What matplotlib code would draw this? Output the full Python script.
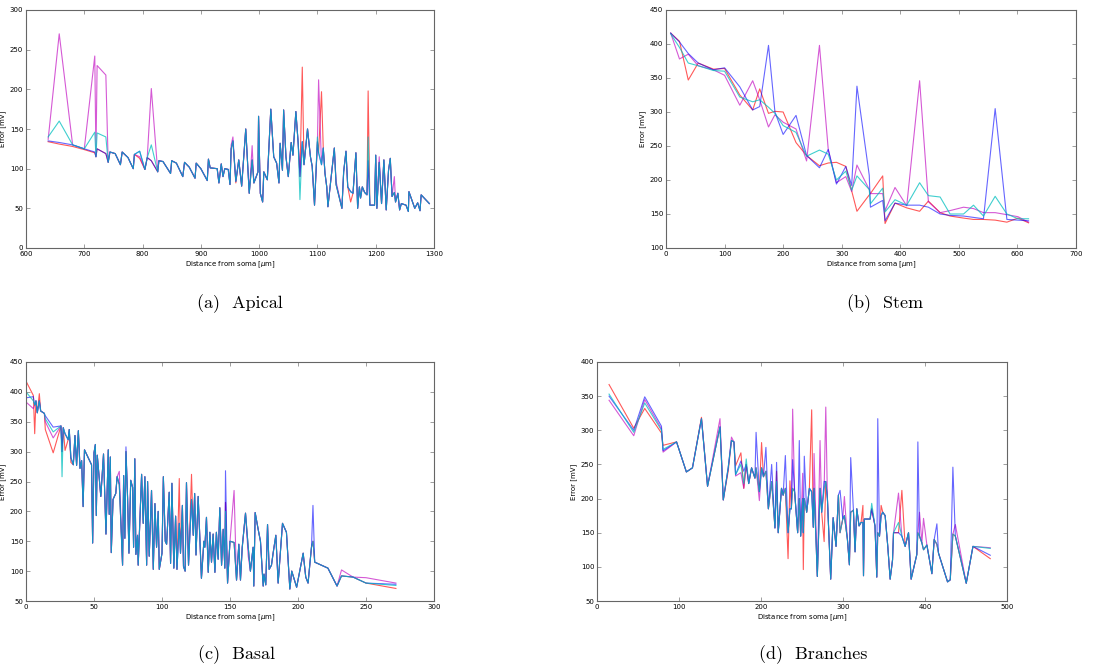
import matplotlib
matplotlib.use('Agg')
import matplotlib.pyplot as plt

# ---- apical -------------------------------------------------------------
apical_x = [638, 657, 680, 700, 718, 720, 722, 737, 741, 744,
            753, 762, 765, 775, 784, 786, 795, 804, 808, 815,
            826, 828, 835, 848, 850, 858, 869, 872, 880, 890,
            892, 900, 911, 913, 916, 928, 931, 935, 938, 941,
            947, 950, 952, 955, 960, 965, 970, 977, 983, 988,
            991, 998, 999, 1002, 1006, 1008, 1014, 1020, 1025, 1030,
            1034, 1036, 1040, 1042, 1046, 1050, 1055, 1058, 1063, 1067,
            1070, 1074, 1077, 1083, 1088, 1091, 1095, 1100, 1102, 1107,
            1110, 1113, 1116, 1118, 1129, 1132, 1142, 1145, 1149, 1152,
            1157, 1161, 1166, 1169, 1172, 1174, 1177, 1181, 1185, 1187,
            1190, 1198, 1200, 1202, 1206, 1210, 1214, 1218, 1222, 1225,
            1228, 1232, 1234, 1238, 1241, 1244, 1252, 1256, 1257, 1267,
            1272, 1276, 1278, 1292]
apical_err = [135, 133, 130, 125, 121, 115, 125, 119, 108, 121,
              119, 105, 121, 114, 100, 118, 122, 99, 114, 110,
              96, 110, 109, 94, 110, 107, 90, 108, 102, 88,
              107, 100, 85, 112, 101, 100, 82, 106, 90, 100,
              99, 80, 125, 135, 84, 111, 78, 150, 69, 111,
              82, 96, 166, 69, 58, 96, 86, 175, 115, 107,
              82, 132, 98, 174, 115, 90, 133, 117, 172, 132,
              90, 134, 105, 150, 115, 103, 54, 134, 120, 105,
              126, 94, 77, 52, 126, 80, 50, 96, 122, 77,
              71, 69, 120, 50, 77, 63, 77, 70, 67, 110,
              54, 54, 117, 50, 108, 56, 111, 48, 98, 113,
              65, 70, 58, 69, 48, 56, 54, 46, 71, 50,
              57, 47, 67, 56]
# points where a run departs from the shared curve
apical_red = {638: 134, 657: 131, 680: 128, 700: 124, 718: 120, 795: 113,
              960: 82, 1074: 228, 1107: 197, 1157: 58, 1187: 198}
apical_mag = {638: 137, 657: 270, 718: 242, 722: 230, 737: 218, 795: 115,
              815: 201, 952: 130, 955: 140, 988: 129, 1102: 212, 1132: 84,
              1206: 115, 1232: 90}
apical_blue = {}
apical_cyan = {638: 140, 657: 160, 718: 146, 722: 145, 737: 140, 815: 130,
               1070: 61, 1100: 140, 1187: 140}

# ---- stem ---------------------------------------------------------------
stem_x = [8, 23, 38, 55, 81, 100, 126, 148, 160, 175,
          186, 200, 222, 240, 262, 277, 291, 307, 317, 326,
          347, 349, 370, 374, 391, 411, 433, 448, 468, 485,
          508, 525, 542, 562, 582, 601, 619]
stem_red = [416, 404, 347, 372, 363, 364, 325, 303, 334, 298,
            301, 300, 255, 236, 221, 225, 226, 220, 184, 154,
            178, 180, 206, 136, 166, 159, 154, 169, 152, 147,
            144, 142, 142, 141, 138, 144, 137]
stem_mag = [416, 378, 385, 368, 362, 354, 310, 346, 318, 278,
            296, 285, 275, 228, 398, 245, 196, 205, 183, 222,
            186, 180, 180, 155, 189, 162, 346, 168, 152, 155,
            160, 158, 152, 152, 149, 146, 138]
stem_blue = [416, 403, 386, 372, 362, 365, 337, 303, 308, 398,
             300, 267, 295, 236, 218, 245, 194, 220, 192, 338,
             207, 160, 170, 140, 166, 163, 163, 160, 150, 148,
             147, 145, 143, 305, 142, 141, 140]
stem_cyan = [415, 395, 372, 368, 361, 360, 322, 315, 318, 307,
             298, 280, 270, 235, 244, 238, 200, 213, 185, 206,
             186, 165, 188, 153, 171, 163, 196, 177, 175, 150,
             150, 163, 147, 176, 150, 143, 143]

# ---- basal --------------------------------------------------------------
basal_x = [0, 5.4, 6.4, 7.3, 8.3, 9.8, 10.8, 13.5, 14.2, 20,
           25.7, 26.5, 27.4, 28.7, 31, 31.8, 33, 34.8, 36, 37.2,
           38.5, 39.7, 40.9, 42, 43, 48.2, 49, 50, 51, 51.7,
           52.4, 55, 57, 58.8, 60.5, 61.2, 62, 62.7, 64, 66,
           67, 68.6, 71, 71.8, 72.7, 73.5, 74.7, 75.7, 77, 78.4,
           79.1, 80, 80.8, 82, 82.5, 85, 86.2, 87.4, 88.7, 89.4,
           90.6, 92.3, 93.6, 94.8, 96, 97.2, 98, 100, 101, 102.4,
           103.4, 105.3, 106.3, 107.3, 108.7, 110, 111, 112.7, 113.6, 115,
           115.8, 117, 118, 119.5, 121.7, 123, 124, 125, 126.6, 129,
           130.8, 131.5, 132.7, 134, 135.2, 136.4, 137.6, 138.9, 140, 141.3,
           142.5, 143.8, 145, 146.2, 146.7, 148.2, 150, 153, 154.8, 156.5,
           157.7, 159, 161.4, 163.4, 165, 167, 167.5, 168.5, 170.7, 172.4,
           174.4, 175, 176.3, 177.6, 178.8, 180.5, 181.7, 183.7, 185.4, 187,
           188.6, 191.5, 194, 195.4, 199, 203.8, 205.7, 207.4, 209.9, 211,
           212.3, 222, 228.7, 232, 240.5, 250, 272]
basal_err = [390, 392, 378, 385, 365, 385, 368, 364, 360, 341,
             343, 300, 340, 330, 320, 337, 290, 278, 327, 277,
             335, 272, 285, 208, 303, 278, 147, 298, 312, 193,
             294, 225, 296, 162, 303, 195, 291, 131, 220, 230,
             258, 245, 110, 260, 155, 300, 222, 130, 252, 240,
             140, 288, 128, 160, 110, 262, 180, 258, 110, 250,
             125, 235, 103, 213, 140, 200, 103, 130, 258, 150,
             145, 232, 113, 247, 105, 192, 103, 180, 130, 210,
             108, 100, 248, 110, 220, 160, 230, 127, 225, 88,
             150, 140, 190, 98, 165, 115, 162, 98, 165, 120,
             206, 110, 170, 105, 215, 80, 150, 148, 85, 145,
             85, 140, 197, 140, 100, 140, 75, 198, 170, 150,
             75, 95, 77, 178, 103, 110, 130, 160, 80, 130,
             180, 165, 70, 100, 73, 130, 90, 80, 140, 150,
             115, 105, 75, 92, 90, 80, 78]
basal_red = {0: 418, 5.4: 394, 6.4: 330, 9.8: 397, 14.2: 337, 20: 298,
             28.7: 302, 33: 282, 112.7: 255, 121.7: 262, 272: 71}
basal_mag = {0: 383, 5.4: 372, 14.2: 350, 20: 323, 68.6: 267, 153: 235,
             163.4: 125, 232: 102, 250: 89, 272: 80}
basal_blue = {73.5: 308, 146.7: 268, 211: 210}
basal_cyan = {0: 400, 5.4: 385, 14.2: 355, 20: 333, 26.5: 258, 146.7: 200,
              272: 76}

# ---- branches -----------------------------------------------------------
branch_x = [14.7, 44.8, 58.2, 78.6, 80.6, 97, 109, 116.4, 127.4, 134.8,
            150, 154, 160, 164, 167, 169, 175.5, 179, 182, 185,
            188.5, 192.6, 194, 198, 200.7, 203, 206, 209, 213, 217,
            219, 221, 225, 227, 229.7, 233, 235.3, 237, 238.6, 241,
            244.7, 246.7, 248.4, 250.8, 251.6, 252.8, 255.7, 259, 261.8, 263.8,
            264.7, 268.7, 272, 274, 277, 279, 281, 285, 288, 291.5,
            294.4, 296.4, 299.7, 301.7, 305.4, 307.8, 309.4, 312.7, 314.7, 316.8,
            319.6, 322, 324.3, 325, 326, 333, 335, 339, 341.2, 342.4,
            344.5, 346.5, 348.5, 351.4, 354.6, 357.5, 360.4, 361.6, 367.7, 371.8,
            375.8, 379.9, 383.1, 390, 391.3, 393.3, 396.2, 398.2, 402.3, 408.4,
            411.2, 414.5, 416.5, 427.5, 430.8, 434, 437, 450.3, 458.5, 479.6]
branch_err = [352, 297, 340, 300, 272, 283, 239, 245, 317, 218,
              305, 198, 245, 285, 283, 235, 250, 222, 250, 222,
              245, 230, 245, 210, 245, 232, 240, 185, 225, 157,
              225, 150, 215, 205, 215, 150, 185, 185, 215, 210,
              150, 200, 145, 200, 150, 200, 180, 215, 210, 158,
              215, 86, 215, 180, 215, 225, 200, 82, 172, 130,
              205, 150, 170, 175, 140, 103, 180, 183, 122, 185,
              160, 165, 165, 87, 170, 170, 185, 160, 85, 150,
              145, 175, 180, 175, 130, 82, 110, 150, 150, 145,
              130, 150, 82, 118, 150, 145, 135, 125, 132, 90,
              140, 133, 120, 78, 81, 148, 145, 76, 130, 127]
branch_red = {14.7: 367, 44.8: 303, 58.2: 332, 78.6: 296, 80.6: 278,
              127.4: 319, 160: 240, 169: 248, 175.5: 267, 179: 215,
              200.7: 282, 219: 240, 233: 112, 235.3: 226, 251.6: 96,
              261.8: 330, 277: 137, 324.3: 190, 346.5: 190, 371.8: 212,
              479.6: 112}
branch_mag = {14.7: 344, 44.8: 292, 58.2: 345, 78.6: 302, 80.6: 268,
              150: 317, 164: 290, 169: 233, 175.5: 238, 179: 215, 198: 197,
              238.6: 331, 250.8: 237, 264.7: 266, 272: 285, 279: 334,
              301.7: 203, 367.7: 208, 393.3: 180, 398.2: 171, 437: 162,
              479.6: 128}
branch_blue = {14.7: 350, 44.8: 300, 58.2: 349, 78.6: 306, 80.6: 270,
               175.5: 255, 179: 240, 194: 297, 206: 275, 213: 250,
               219: 253, 229.7: 263, 238.6: 257, 246.7: 285, 252.8: 262,
               277: 225, 296.4: 212, 309.4: 260, 342.4: 317, 391.3: 283,
               414.5: 163, 434: 246, 479.6: 117}
branch_cyan = {14.7: 353, 182: 258, 335: 193, 367.7: 165}

colors = ['r', 'm', 'b', 'c']
alphas = [0.65, 0.65, 0.6, 0.75]


def with_changes(xs, shared, changes):
    return [changes.get(x, y) for x, y in zip(xs, shared)]


def style_axes(ax, xlim, ylim, xticks, yticks):
    ax.set_xlim(*xlim)
    ax.set_ylim(*ylim)
    ax.set_xticks(xticks)
    ax.set_yticks(yticks)
    ax.tick_params(direction='in', top=True, right=True, labelsize=5,
                   length=3, width=0.5, color='#777777', pad=2)
    for sp in ax.spines.values():
        sp.set_color('#666666')
        sp.set_linewidth(0.8)
    ax.set_xlabel(r'Distance from soma [$\mu$m]', fontsize=5, labelpad=2)
    ax.set_ylabel('Error [mV]', fontsize=5, labelpad=3)


fig = plt.figure(figsize=(11.18, 6.71), dpi=100)
W, H = 1118.0, 671.0


def panel(left, top, right, bottom):
    return fig.add_axes([left / W, 1 - bottom / H, (right - left) / W, (bottom - top) / H])


ax_a = panel(26, 10, 434, 248)
ax_b = panel(666, 10, 1076, 248)
ax_c = panel(26, 362, 434, 601)
ax_d = panel(597, 362, 1007, 601)

runs_a = [with_changes(apical_x, apical_err, d) for d in (apical_red, apical_mag, apical_blue, apical_cyan)]
runs_b = [stem_red, stem_mag, stem_blue, stem_cyan]
runs_c = [with_changes(basal_x, basal_err, d) for d in (basal_red, basal_mag, basal_blue, basal_cyan)]
runs_d = [with_changes(branch_x, branch_err, d) for d in (branch_red, branch_mag, branch_blue, branch_cyan)]

for ax, xs, runs in [(ax_a, apical_x, runs_a), (ax_b, stem_x, runs_b),
                     (ax_c, basal_x, runs_c), (ax_d, branch_x, runs_d)]:
    for ys, col, a in zip(runs, colors, alphas):
        ax.plot(xs, ys, color=col, alpha=a, lw=0.8)

style_axes(ax_a, (600, 1300), (0, 300), range(600, 1301, 100), range(0, 301, 50))
style_axes(ax_b, (0, 700), (100, 450), range(0, 701, 100), range(100, 451, 50))
style_axes(ax_c, (0, 300), (50, 450), range(0, 301, 50), range(50, 451, 50))
style_axes(ax_d, (0, 500), (50, 400), range(0, 501, 100), range(50, 401, 50))

captions = [('(a)  Apical', 240, 304), ('(b)  Stem', 885, 304),
            ('(c)  Basal', 237, 655), ('(d)  Branches', 813, 655)]
for txt, cx, cy in captions:
    fig.text(cx / W, 1 - cy / H, txt, ha='center', va='center',
             fontsize=13, family='cmr10')

fig.savefig('out.png', dpi=100)
